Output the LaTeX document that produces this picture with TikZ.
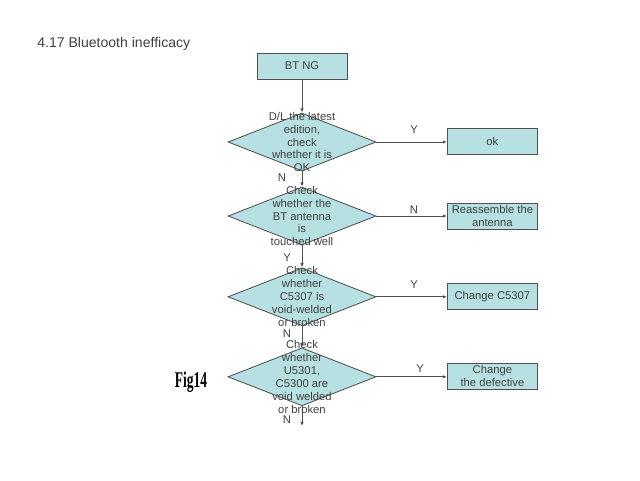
\documentclass[tikz,border=0pt]{standalone}
\usepackage{fontspec}
\setmainfont{Liberation Sans}
\newfontfamily\figfont{Liberation Serif}
\usetikzlibrary{shapes.geometric}
\usetikzlibrary{arrows.meta}
\definecolor{tuerkis}{RGB}{183,224,226}
\definecolor{rahmen}{RGB}{80,80,80}
\definecolor{schrift}{RGB}{64,64,64}

\begin{document}
\begin{tikzpicture}[
  box/.style={draw=rahmen, fill=tuerkis, line width=0.6pt, minimum width=2.25cm, minimum height=0.65cm, inner sep=1pt, text=schrift, font=\fontsize{8}{9.5}\selectfont, align=center},
  raute/.style={diamond, draw=rahmen, fill=tuerkis, line width=0.6pt, minimum width=3.7cm, minimum height=1.45cm, inner sep=0pt},
  frage/.style={text=schrift, font=\fontsize{8}{9.2}\selectfont, align=center, inner sep=0pt},
  pfeil/.style={draw=rahmen, line width=0.6pt, -{Latex[length=3pt,width=2.5pt]}},
  yn/.style={text=schrift, font=\fontsize{8}{8}\selectfont}
]
\useasboundingbox (0,0) rectangle (16,-12);
% title
\node[anchor=west, inner sep=0pt, text=schrift, font=\fontsize{10}{12}\selectfont] (titel) at (0.925,-1.1) {4.17 Bluetooth inefficacy};
\node[text=black, font=\figfont\bfseries\fontsize{16}{16}\selectfont, xscale=0.6] (fig) at (4.775,-9.55) {Fig14};
% main column
\node[box] (btng) at (7.55,-1.65) {BT NG};
\node[raute] (d1) at (7.55,-3.55) {};
\node[raute] (d2) at (7.55,-5.4) {};
\node[raute] (d3) at (7.55,-7.42) {};
\node[raute] (d4) at (7.55,-9.42) {};
\coordinate (ende) at (7.55,-10.65);
% right column
\node[box] (ok) at (12.31,-3.525) {ok};
\node[box] (reass) at (12.31,-5.4) {Reassemble the\\antenna};
\node[box] (chc) at (12.31,-7.42) {Change C5307};
\node[box] (chdef) at (12.31,-9.4) {Change\\the defective};
% arrows
\draw[pfeil] (btng) -- (d1);
\draw[pfeil] (d1) -- (d2);
\draw[pfeil] (d2) -- (d3);
\draw[pfeil] (d3) -- (d4);
\draw[pfeil] (d4) -- (ende);
\draw[pfeil] (d1.east) -- (ok.west |- d1.east);
\draw[pfeil] (d2.east) -- (reass.west |- d2.east);
\draw[pfeil] (d3.east) -- (chc.west |- d3.east);
\draw[pfeil] (d4.east) -- (chdef.west |- d4.east);
% questions
\node[frage] (q1) at (d1) {D/L the latest\\edition,\\check\\whether it is\\OK};
\node[frage] (q2) at (d2) {Check\\whether the\\BT antenna\\is\\touched well};
\node[frage] (q3) at (d3) {Check\\whether\\C5307 is\\void-welded\\or broken};
\node[frage] (q4) at (d4) {Check\\whether\\U5301,\\C5300 are\\void welded\\or broken};
% Y/N
\node[yn] (n1) at (7.05,-4.45) {N};
\node[yn] (y2) at (7.175,-6.45) {Y};
\node[yn] (n3) at (7.175,-8.35) {N};
\node[yn] (n4) at (7.175,-10.5) {N};
\node[yn] (y1) at (10.35,-3.25) {Y};
\node[yn] (n2) at (10.35,-5.25) {N};
\node[yn] (y3) at (10.35,-7.125) {Y};
\node[yn] (y4) at (10.5,-9.225) {Y};
\end{tikzpicture}
\end{document}
